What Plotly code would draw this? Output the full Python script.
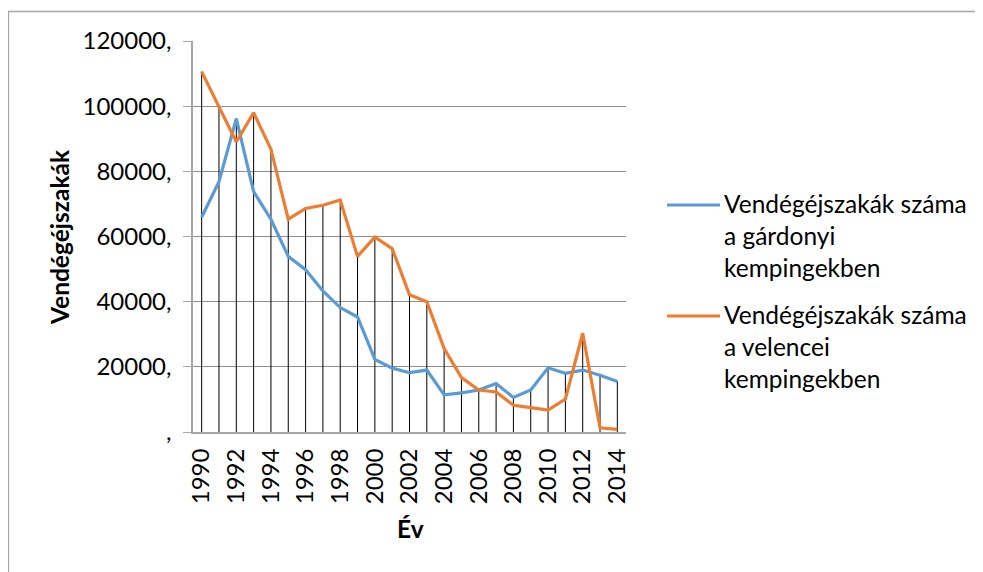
import plotly.graph_objects as go

years = list(range(1990, 2015))
gardonyi = [65900, 76800, 96200, 73800, 65300, 53900, 49800, 43300, 38200, 35300,
            22300, 19600, 18200, 19000, 11400, 12000, 12900, 14900, 10600, 12900,
            19700, 18000, 19000, 17400, 15500]
velencei = [110600, 99700, 89000, 98000, 86800, 65300, 68600, 69600, 71200, 53900,
            59800, 56300, 42100, 40000, 25600, 16700, 12900, 12300, 8200, 7500,
            6700, 10100, 30300, 1300, 800]
y_ticks = [0, 20000, 40000, 60000, 80000, 100000, 120000]
y_tick_text = [",", "20000,", "40000,", "60000,", "80000,", "100000,", "120000,"]
name_g = "Vendégéjszakák száma<br>a gárdonyi<br>kempingekben"
name_v = "Vendégéjszakák száma<br>a velencei<br>kempingekben"
BLUE = "#5B9BD5"
ORANGE = "#ED7D31"
FONT = "Lato"

# drop lines from the highest point down to the axis
drop_x, drop_y = [], []
for yr, a, b in zip(years, gardonyi, velencei):
    drop_x += [yr, yr, None]
    drop_y += [0, max(a, b), None]

fig = go.Figure()
fig.add_trace(go.Scatter(x=drop_x, y=drop_y, mode="lines",
                         line=dict(color="black", width=1),
                         showlegend=False, hoverinfo="skip"))
fig.add_trace(go.Scatter(x=years, y=gardonyi, mode="lines", name=name_g,
                         line=dict(color=BLUE, width=3.2), showlegend=False))
fig.add_trace(go.Scatter(x=years, y=velencei, mode="lines", name=name_v,
                         line=dict(color=ORANGE, width=3.2), showlegend=False))

OFF = 8  # default page body margin
W, H = 983 - OFF, 572 - OFF
L, T = 185, 33
pw, ph = 433, 391
R = W - L - pw
B = H - T - ph

def px(x):  # screen pixel -> paper x
    return (x - OFF - L) / pw

def py(y):  # screen pixel -> paper y
    return (T + ph - (y - OFF)) / ph

annotations = [
    dict(text="<b>Vendégéjszakák</b>", xref="paper", yref="paper", x=px(59), y=py(237),
         xanchor="center", yanchor="middle", textangle=-90, showarrow=False,
         font=dict(family=FONT, size=24.5, color="black")),
    dict(text="<b>Év</b>", xref="paper", yref="paper", x=px(410), y=py(528),
         xanchor="center", yanchor="middle", showarrow=False,
         font=dict(family=FONT, size=24.5, color="black")),
]
shapes = [
    dict(type="rect", xref="paper", yref="paper", x0=px(8.5), y0=-1, x1=2, y1=py(11.5),
         line=dict(color="#a6a6a6", width=1.3), fillcolor="rgba(0,0,0,0)", layer="below"),
]
# manual legend
for i, (nm, col) in enumerate([(name_g, BLUE), (name_v, ORANGE)]):
    ly = 205 + i * 111
    shapes.append(dict(type="line", xref="paper", yref="paper",
                       x0=px(667), x1=px(720), y0=py(ly), y1=py(ly),
                       line=dict(color=col, width=3.2)))
    annotations.append(dict(text=nm, xref="paper", yref="paper", x=px(722), y=py(ly - 18),
                            xanchor="left", yanchor="top", align="left", showarrow=False,
                            font=dict(family=FONT, size=24.5, color="black")))

fig.update_layout(
    width=W, height=H,
    margin=dict(l=L, r=R, t=T, b=B),
    paper_bgcolor="white", plot_bgcolor="white",
    font=dict(family=FONT, size=24, color="black"),
    annotations=annotations, shapes=shapes,
    xaxis=dict(range=[1989.5, 2014.5], tickmode="array",
               tickvals=years[::2], ticktext=[str(v) for v in years[::2]],
               tickangle=-90, showgrid=False, zeroline=False,
               showline=True, linecolor="#a6a6a6", linewidth=2,
               ticks="", ticklabelstandoff=5,
               tickfont=dict(family=FONT, size=24, color="black")),
    yaxis=dict(range=[0, 120000], tickmode="array", tickvals=y_ticks, ticktext=y_tick_text,
               showgrid=True, gridcolor="#8c8c8c", gridwidth=1, zeroline=False,
               showline=True, linecolor="#a6a6a6", linewidth=1.5,
               ticks="outside", ticklen=8, tickcolor="#a6a6a6", ticklabelstandoff=7,
               tickfont=dict(family=FONT, size=24, color="black")),
)

fig.write_html("out.html")
